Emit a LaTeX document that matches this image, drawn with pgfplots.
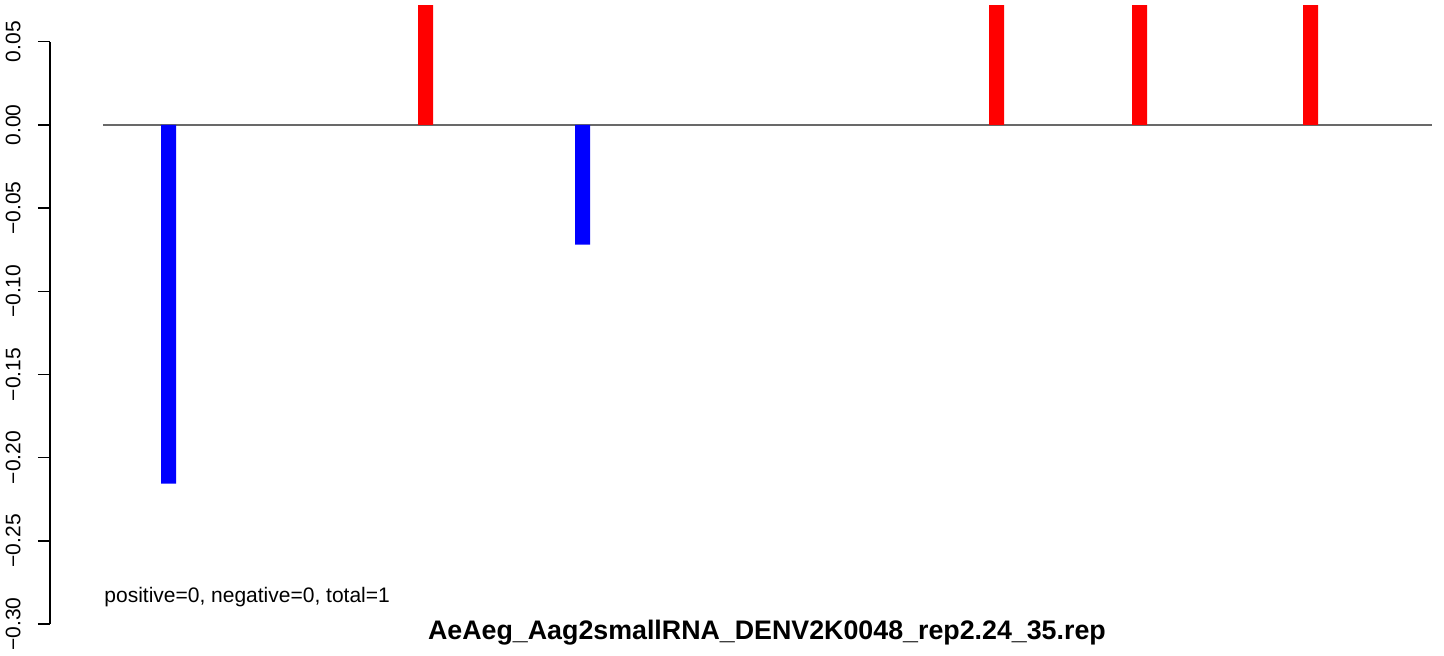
\documentclass[border=0pt]{standalone}
\usepackage{pgfplots}
\pgfplotsset{compat=1.18}
\usepackage{fontspec}
\setmainfont{Liberation Sans}

% bar positions in plot units (pixel-like), heights
\pgfplotstableread{
x y
425.5 0.5
996.5 0.5
1139.5 0.5
1310.5 0.5
}\pos
\pgfplotstableread{
x y
168.5 -0.2156
582.5 -0.0720
}\negs

\begin{document}
\begin{tikzpicture}
\begin{axis}[
  at={(0,0)}, anchor=south west,
  scale only axis, width=697pt, height=322pt,
  xmin=50, xmax=1444, ymin=-0.3156, ymax=0.0715,
  axis x line=none, axis y line=left,
  y axis line style={draw=none},
  clip mode=individual,
  ytick={-0.30,-0.25,-0.20,-0.15,-0.10,-0.05,0.00,0.05},
  yticklabels={−0.30,−0.25,−0.20,−0.15,−0.10,−0.05,0.00,0.05},
  tick align=outside, major tick length=6pt,
  tick style={black, line width=0.75pt},
  yticklabel style={rotate=90, anchor=south, inner sep=0pt, yshift=8.5pt},
  font=\fontsize{10.5}{12}\selectfont,
  ybar, bar width=15, bar shift=0pt,
]
\addplot[sharp plot, draw={rgb,255:red,105;green,105;blue,105}, line width=0.7pt, forget plot] coordinates {(103,0) (1432,0)};
\addplot[fill=red, draw=none] table {\pos};
\addplot[fill=blue, draw=none] table {\negs};
\draw[black, line width=0.75pt] (axis cs:50,-0.30) -- (axis cs:50,0.05);
\node[anchor=base west, inner sep=0pt, font=\fontsize{10.5}{12}\selectfont] at (axis cs:104,-0.2873) {positive=0, negative=0, total=1};
\node[anchor=base, inner sep=0pt, font=\fontsize{13.4}{15}\selectfont\bfseries] at (axis cs:767,-0.309) {AeAeg\_Aag2smallRNA\_DENV2K0048\_rep2.24\_35.rep};
\end{axis}
\pgfresetboundingbox
\path (-25pt,-3pt) rectangle (697pt,325pt);
\end{tikzpicture}
\end{document}
